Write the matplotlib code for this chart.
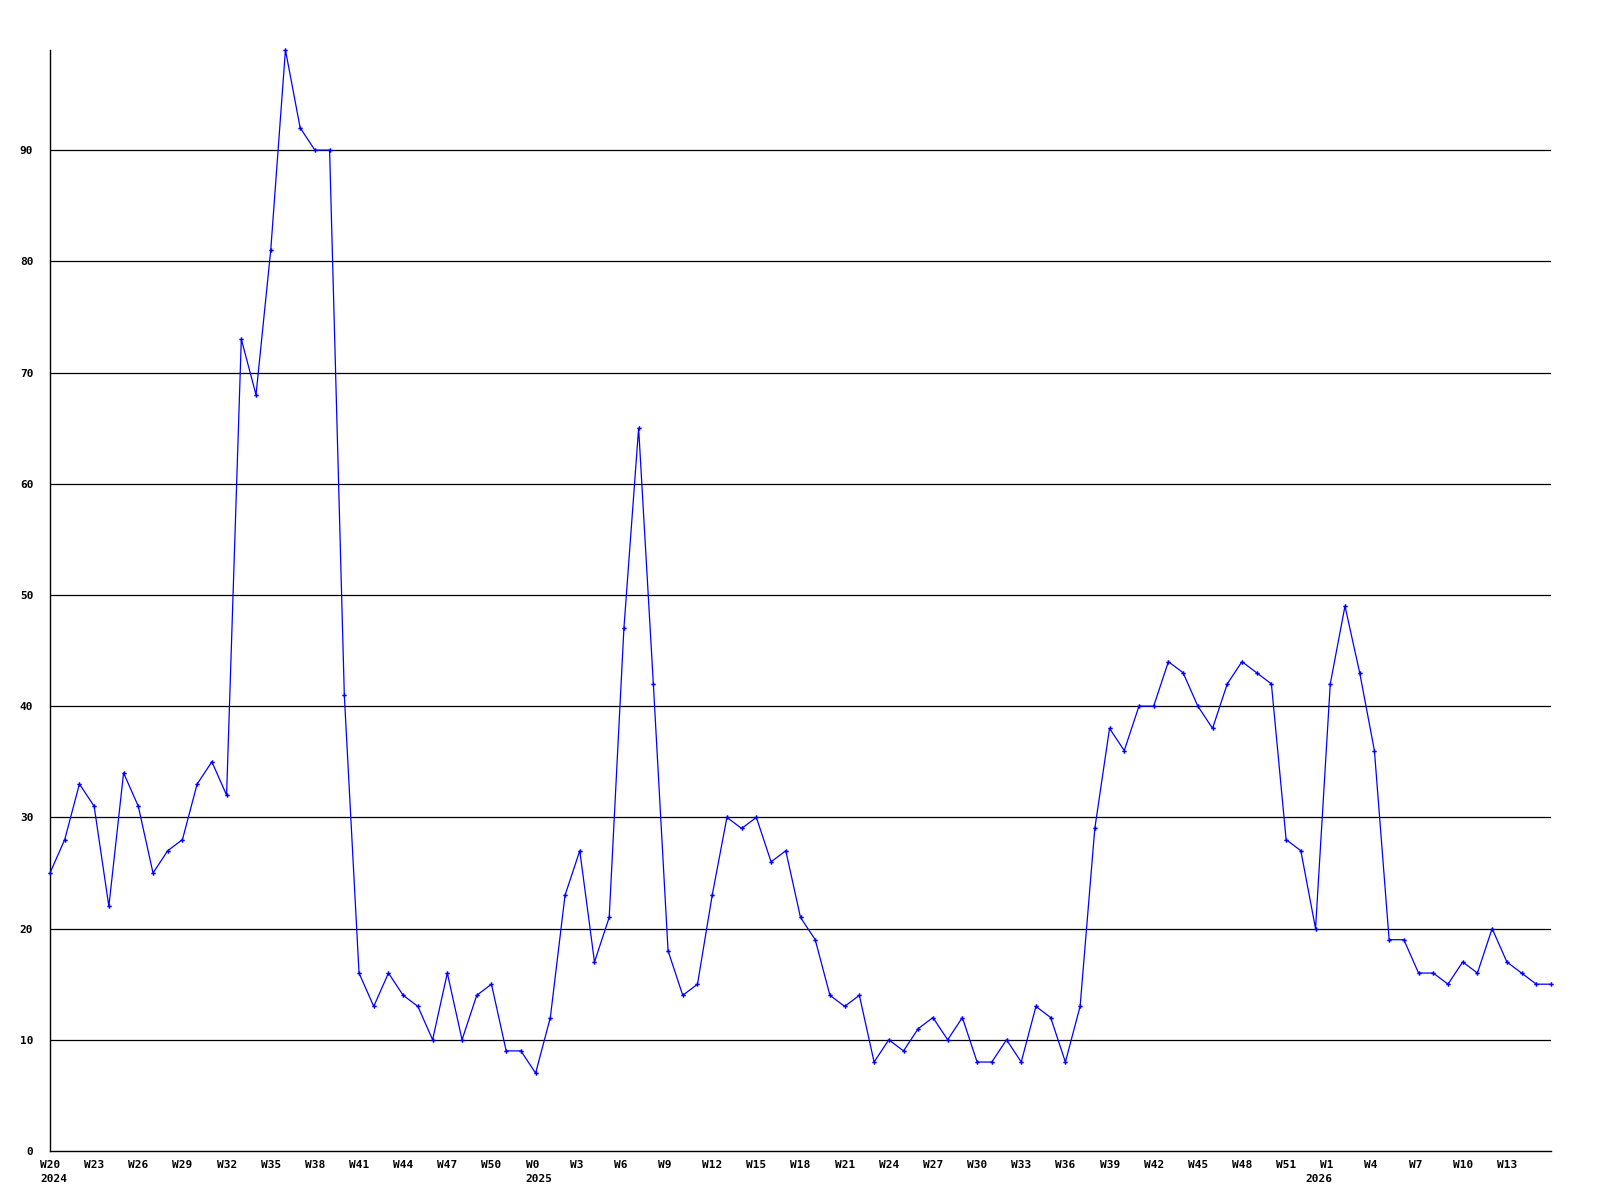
import matplotlib
matplotlib.use("Agg")
import matplotlib.pyplot as plt
from matplotlib.transforms import ScaledTranslation

# weekly counts, W20 2024 .. W16 2026
values = [25, 28, 33, 31, 22, 34, 31, 25, 27, 28, 33, 35, 32, 73, 68, 81, 99, 92, 90, 90,
          41, 16, 13, 16, 14, 13, 10, 16, 10, 14, 15, 9, 9, 7, 12, 23, 27, 17, 21, 47,
          65, 42, 18, 14, 15, 23, 30, 29, 30, 26, 27, 21, 19, 14, 13, 14, 8, 10, 9, 11,
          12, 10, 12, 8, 8, 10, 8, 13, 12, 8, 13, 29, 38, 36, 40, 40, 44, 43, 40, 38,
          42, 44, 43, 42, 28, 27, 20, 42, 49, 43, 36, 19, 19, 16, 16, 15, 17, 16, 20, 17,
          16, 15, 15]

# (year, first week number, number of weeks shown in that year)
years = [(2024, 20, 33), (2025, 0, 53), (2026, 0, 17)]

weeks = []
year_start = {}
for year, first, count in years:
    year_start[year] = len(weeks)
    for k in range(count):
        weeks.append("W%d" % (first + k))

x = list(range(len(values)))
tick_pos = list(range(0, len(values) - 1, 3))
tick_lab = [weeks[i] for i in tick_pos]

dpi = 100
fig = plt.figure(figsize=(16, 12), dpi=dpi)
ax = fig.add_axes([50 / 1600, 1 - 1151 / 1200, 1501 / 1600, 1101 / 1200])

font = dict(family="DejaVu Sans Mono", weight="bold", size=8)

for v in range(10, 100, 10):
    ax.axhline(v, color="black", linewidth=0.9, zorder=1)

ax.plot(x, values, color="#0000ff", linewidth=0.9, marker="P", markersize=3.2,
        markeredgewidth=0, clip_on=False, zorder=3)

ax.set_xlim(0, len(values) - 1)
ax.set_ylim(0, max(values))
ax.spines["top"].set_visible(False)
ax.spines["right"].set_visible(False)
ax.spines["left"].set_linewidth(1)
ax.spines["bottom"].set_linewidth(1)

ax.set_yticks(range(0, 100, 10))
ax.set_yticklabels([str(v) for v in range(0, 100, 10)], **font)
ax.tick_params(axis="y", length=0, pad=12)

ax.set_xticks(tick_pos)
ax.set_xticklabels(tick_lab, **font)
ax.tick_params(axis="x", length=0, pad=6.5)
shift = ScaledTranslation(-10 / dpi, 0, fig.dpi_scale_trans)
for lab in ax.get_xticklabels():
    lab.set_ha("left")
    lab.set_transform(lab.get_transform() + shift)

for year, start in year_start.items():
    ax.text(start, 0, str(year), transform=ax.get_xaxis_transform() + shift
            + ScaledTranslation(0, -23 / dpi, fig.dpi_scale_trans),
            ha="left", va="top", **font)

fig.savefig("out.png", dpi=dpi)
